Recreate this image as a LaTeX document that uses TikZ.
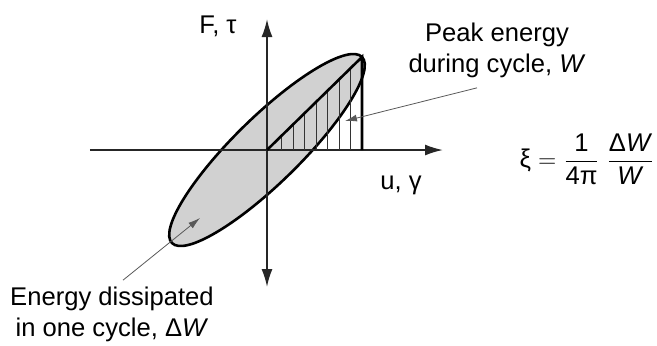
\documentclass[tikz,border=0pt]{standalone}
\usepackage{fontspec}
\setmainfont{Liberation Sans}
\usetikzlibrary{arrows.meta}
\tikzstyle{axis} = [line width=0.9pt, black!85, -{Latex[length=9pt,width=5.5pt]}]
\tikzstyle{pointer} = [line width=0.4pt, black!65, -{Latex[length=6pt,width=3.5pt]}]
\tikzstyle{hystloop} = [line width=1.3pt, fill=black!18]
\tikzstyle{hatch} = [line width=0.45pt, black!80]
\tikzstyle{lbl} = [font=\fontsize{12.8}{15.5}\selectfont, inner sep=1pt]

\begin{document}
\begin{tikzpicture}[x=0.5pt, y=0.5pt]
  \useasboundingbox (-267,-195) rectangle (390,150);
  \coordinate (O) at (0,0);
  \coordinate (pk) at (95,93);
  % hysteresis loop
  \draw[hystloop, rotate=44.4] (O) ellipse [x radius=133, y radius=33];
  % axes
  \coordinate (xl) at (-177,0);
  \coordinate (xr) at (176,0);
  \coordinate (yb) at (0,-137);
  \coordinate (yt) at (0,131);
  \draw[axis] (xl) -- (xr);
  \draw[axis] (O) -- (yt);
  \draw[axis] (O) -- (yb);
  % peak energy triangle
  \foreach \k in {1,...,7}
    \draw[hatch] ({95-\k*11.5},0) -- ({95-\k*11.5},{(95-\k*11.5)*93/95});
  \draw[line width=1.3pt] (O) -- (pk) -- (pk |- O);
  % labels
  \node[lbl] (Flabel) at (-49,124) {F, τ};
  \node[lbl] (ulabel) at (134,-35) {u, γ};
  \node[lbl, align=center] (peak) at (230,100) {Peak energy\\during cycle, \textit{W}};
  \node[lbl, align=center] (dissip) at (-155,-164) {Energy dissipated\\in one cycle, Δ\textit{W}};
  \node[lbl, anchor=east] (xi) at (390,-9) {ξ $=\displaystyle\frac{\mbox{1}}{\mbox{4π}}\;\frac{\mbox{Δ\textit{W}}}{\mbox{\textit{W}}}$};
  \coordinate (wtip) at (78,29);
  \coordinate (dwtip) at (-67,-68);
  \draw[pointer] (peak.south) ++(-20,-8) -- (wtip);
  \draw[pointer] (dissip.north) ++(11,4) -- (dwtip);
\end{tikzpicture}
\end{document}
